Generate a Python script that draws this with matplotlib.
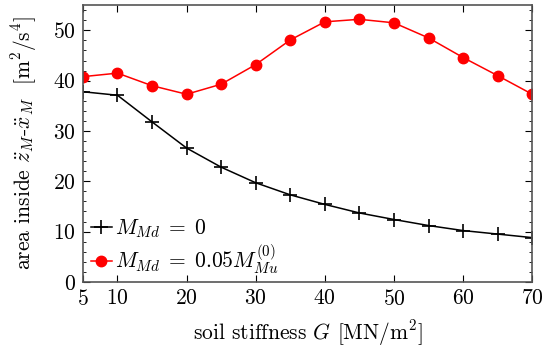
import matplotlib
matplotlib.use('Agg')
import matplotlib.pyplot as plt
from matplotlib.ticker import MultipleLocator

plt.rcParams['font.family'] = 'serif'
plt.rcParams['font.serif'] = ['cmr10']
plt.rcParams['mathtext.fontset'] = 'cm'
plt.rcParams['axes.formatter.use_mathtext'] = True
plt.rcParams['font.size'] = 15.5

G = [5, 10, 15, 20, 25, 30, 35, 40, 45, 50, 55, 60, 65, 70]
area_zero = [37.8, 37.1, 31.8, 26.6, 22.8, 19.7, 17.3, 15.4, 13.7, 12.4, 11.2, 10.2, 9.5, 8.8]
area_005 = [40.8, 41.5, 39.0, 37.3, 39.3, 43.2, 48.1, 51.7, 52.2, 51.5, 48.5, 44.6, 41.0, 37.3]
xticks = [5, 10, 20, 30, 40, 50, 60, 70]

fig = plt.figure(figsize=(5.42, 3.48), dpi=100)
ax = fig.add_axes([0.153, 0.190, 0.829, 0.795])

ax.plot(G, area_zero, color='black', lw=1.1, marker='+', ms=10, mew=1.2,
        label=r'$M_{Md}\;=\;0$')
ax.plot(G, area_005, color='red', lw=1.1, marker='o', ms=7.5,
        label=r'$M_{Md}\;=\;0.05M_{Mu}^{(0)}$')

ax.set_xlim(5, 70)
ax.set_ylim(0, 55)
ax.set_xticks(xticks)
ax.yaxis.set_major_locator(MultipleLocator(10))
ax.yaxis.set_minor_locator(MultipleLocator(2))
ax.tick_params(which='both', direction='in', top=True, right=True)
ax.tick_params(which='major', length=5, pad=5)
ax.tick_params(which='minor', length=2.5)
for s in ax.spines.values():
    s.set_color('#555555')
    s.set_linewidth(1.2)

ax.set_xlabel(r'soil stiffness $G$ [MN/m$^2$]', labelpad=7)
ax.set_ylabel(r'area inside $\ddot{z}_M$-$\ddot{x}_M$  [m$^2$/s$^4$]', labelpad=10)

ax.legend(loc='lower left', bbox_to_anchor=(0.005, 0.0), frameon=False,
          handlelength=1.0, handletextpad=0.15, borderaxespad=0.0,
          labelspacing=0.12, borderpad=0.25)

fig.savefig('out.png', dpi=100)
